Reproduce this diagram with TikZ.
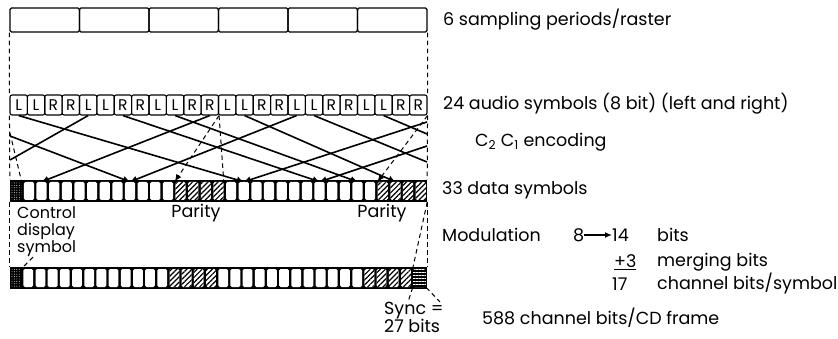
\documentclass[tikz,border=0pt]{standalone}
\usepackage{fontspec}
\setmainfont{Poppins}
\usetikzlibrary{arrows.meta,positioning,patterns.meta}
\tikzset{
  rastercell/.style={draw,line width=1.3pt,rounded corners=1.5pt,minimum width=69.5pt,minimum height=24pt,inner sep=0pt},
  audiocell/.style={draw,line width=1.1pt,rounded corners=2pt,minimum width=17.375pt,minimum height=20pt,inner sep=0pt,font=\fontsize{15.5}{15.5}\selectfont},
  rowbar/.style={fill=black,minimum width=417pt,minimum height=22pt,inner sep=0pt},
  datacell/.style={fill=white,rounded corners=1.5pt,minimum width=10.2pt,minimum height=18pt,inner sep=0pt},
  paritycell/.style={datacell,preaction={fill=white},pattern={Lines[angle=45,distance=3.6pt,line width=1.2pt]}},
  ctrlcell/.style={datacell,pattern={Dots[distance=2.4pt,radius=.45pt]},pattern color=white},
  synccell/.style={datacell,minimum width=12.6pt,pattern={Lines[angle=0,distance=3pt,line width=1pt]},pattern color=white},
  wire/.style={line width=1.6pt,-{Latex[length=7pt,width=7pt]}},
  bare/.style={line width=1.6pt},
  dashwire/.style={line width=1pt,dash pattern=on 4.5pt off 3.5pt},
  lbl/.style={anchor=west,inner sep=0pt,font=\fontsize{17.5}{18}\selectfont}
}
\begin{document}
\begin{tikzpicture}[x=1pt,y=-1pt]
  \useasboundingbox (0,0) rectangle (838,339);
  % raster of six sampling periods
  \foreach \i in {1,...,6}
    \node[rastercell] (r\i) at ({10+(\i-0.5)*69.5},20) {};
  % audio symbols
  \foreach \k in {0,...,5}{
    \foreach \m/\t in {1/L,2/L,3/R,4/R}{
      \pgfmathtruncatemacro\i{4*\k+\m}
      \node[audiocell] (a\i) at ({10+(\i-0.5)*17.375},105) {\t};
    }
  }
  % data symbols
  \node[rowbar] (datarow) at (218.5,191) {};
  \node[ctrlcell] (d1) at ({10+0.5*12.636},191) {};
  \foreach \j in {2,...,13}
    \node[datacell] (d\j) at ({10+(\j-0.5)*12.636},191) {};
  \foreach \j in {18,...,29}
    \node[datacell] (d\j) at ({10+(\j-0.5)*12.636},191) {};
  \foreach \j in {14,...,17}
    \node[paritycell] (d\j) at ({10+(\j-0.5)*12.636},191) {};
  \foreach \j in {30,...,33}
    \node[paritycell] (d\j) at ({10+(\j-0.5)*12.636},191) {};
  % channel frame
  \node[rowbar] (botrow) at (218.5,278) {};
  \node[ctrlcell,minimum width=9.8pt] (b1) at ({10+0.5*12.182},278) {};
  \foreach \j in {2,...,13}
    \node[datacell,minimum width=9.8pt] (b\j) at ({10+(\j-0.5)*12.182},278) {};
  \foreach \j in {18,...,29}
    \node[datacell,minimum width=9.8pt] (b\j) at ({10+(\j-0.5)*12.182},278) {};
  \foreach \j in {14,...,17}
    \node[paritycell,minimum width=9.8pt] (b\j) at ({10+(\j-0.5)*12.182},278) {};
  \foreach \j in {30,...,33}
    \node[paritycell,minimum width=9.8pt] (b\j) at ({10+(\j-0.5)*12.182},278) {};
  \node[synccell] (sync) at (419.5,278) {};

  % labels
  \node[lbl] (lraster) at (443,20) {6 sampling periods/raster};
  \node[lbl] (laudio) at (443,104) {24 audio symbols (8 bit) (left and right)};
  \node[lbl] (lenc) at (475,142) {C\textsubscript{2} C\textsubscript{1} encoding};
  \node[lbl] (ldata) at (442,190) {33 data symbols};
  \node[lbl] (lmod) at (442,235) {Modulation};
  \node[lbl] (n8) at (573,235) {8};
  \node[lbl] (n14) at (612,235) {14};
  \node[lbl] (nbits) at (657,235) {bits};
  \node[lbl] (n3) at (614,262) {\underline{+3}};
  \node[lbl] (nmerge) at (657,262) {merging bits};
  \node[lbl] (n17) at (612,284) {17};
  \node[lbl] (nchan) at (657,284) {channel bits/symbol};
  \node[lbl] (lframe) at (482,318) {588 channel bits/CD frame};
  \node[lbl,font=\fontsize{16}{18}\selectfont] (lctrl) at (17,213) {Control};
  \node[lbl,font=\fontsize{16}{18}\selectfont] (ldisp) at (17,231) {display};
  \node[lbl,font=\fontsize{16}{18}\selectfont] (lsym) at (17,249) {symbol};
  \node[lbl,anchor=center] (par1) at (196,213) {Parity};
  \node[lbl,anchor=center] (par2) at (382,213) {Parity};
  \node[lbl,anchor=north west,align=left] (lsync) at (384,302) {Sync =\\27 bits};
  \draw[line width=1.3pt,-{Latex[length=7pt,width=6pt]}] (n8) -- (n14);

  % dashed borders
  \draw[dashwire] (r1.south west) -- (a1.north west);
  \draw[dashwire] (r6.south east) -- (a24.north east);
  \draw[dashwire] (a1.south west) -- (datarow.north west);
  \draw[dashwire] (a24.south east) -- (datarow.north east);
  \draw[dashwire] (datarow.south west) -- (botrow.north west);
  \draw[dashwire] (datarow.south east) -- (botrow.north east);
  \coordinate (lcut) at (10,133);
  \draw[dashwire] (lcut) -- (d1.north east);
  \draw[dashwire,-{Latex[length=7pt,width=6pt]}] (a12.south east) -- (d14.north west);
  \draw[dashwire] (a12.south east) -- (d17.north east);
  \draw[dashwire,-{Latex[length=7pt,width=6pt]}] (a24.south east) -- (d30.north west);
  \draw[dashwire] (datarow.south east) -- (sync.north west);
  \draw[dashwire] ([xshift=16pt]lsym.south west) -- (b1.north east);
  \coordinate (synctxt) at (408,302);
  \coordinate (eqtxt) at (440,302);
  \draw[dashwire] (sync.south west) -- (synctxt);
  \draw[dashwire] (sync.south east) -- (eqtxt);

  % C2 C1 interleaving
  \coordinate (le1) at (10,160);
  \coordinate (le2) at (10,136);
  \coordinate (re1) at (427,122);
  \coordinate (re2) at (427,146);
  \coordinate (re3) at (427,162);
  \coordinate (re4) at (427,134);
  \draw[wire] (a12.south) -- (d3.north);
  \draw[wire] (a17.south) -- (d10.north);
  \draw[wire] (re1) -- (d19.north);
  \draw[wire] (re2) -- (d25.north);
  \draw[bare] (a5.south) -- (le1);
  \draw[wire] (le2) -- (d10.north);
  \draw[wire] (a1.south) -- (d19.north);
  \draw[wire] (a7.south) -- (d25.north);
  \draw[wire] (a10.south) -- (d28.north);
  \draw[wire] (a14.south) -- (d31.north);
  \draw[bare] (a18.south) -- (re3);
  \draw[bare] (a22.south) -- (re4);
\end{tikzpicture}
\end{document}
